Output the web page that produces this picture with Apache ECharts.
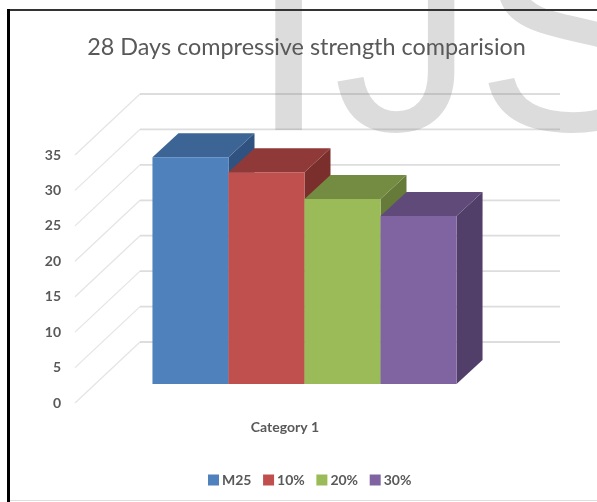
<!DOCTYPE html>
<html>
<head>
<meta charset="utf-8">
<style>
  html, body { margin: 0; padding: 0; background: #fff; }
  #chart { width: 597px; height: 502px; filter: blur(0.45px); }
</style>
<script src="https://cdn.jsdelivr.net/npm/echarts@6/dist/echarts.min.js"></script>
</head>
<body>
<div id="chart"></div>
<script>
  const categories = ['Category 1']
  const seriesNames = ['M25', '10%', '20%', '30%']
  const m25 = [32]
  const pct10 = [29.9]
  const pct20 = [26.1]
  const pct30 = [23.7]
  const yTicks = [0, 5, 10, 15, 20, 25, 30, 35]

  const faceColors = ['#4f81bd', '#c0504d', '#9bbb59', '#8064a2']
  const topColors = ['#3c6494', '#8f3a38', '#748c42', '#5f4a79']
  const sideColors = ['#2f5280', '#7b2f2d', '#667b3a', '#523f69']
  const textColor = '#595959'
  const fontName = 'Lato'

  // depth of the 3d box, in pixels
  const wallDx = 65, wallDy = 61
  const barOffsetX = 19.5, barOffsetY = 19
  const barDepthX = 26, barDepthY = 24
  const barShare = 0.181

  let myChart = echarts.init(document.getElementById('chart'), null, { renderer: 'canvas' })

  function renderWall (params, api) {
    let p = api.coord([0, api.value(0)])
    let cs = params.coordSys
    let x1 = cs.x + wallDx
    let y1 = p[1] - wallDy
    return {
      type: 'group',
      children: [
        { type: 'line', shape: { x1: cs.x, y1: p[1], x2: x1, y2: y1 }, style: { stroke: 'rgba(120,120,120,0.2)', lineWidth: 1.2 } },
        { type: 'line', shape: { x1: x1, y1: y1, x2: cs.x + cs.width + wallDx, y2: y1 }, style: { stroke: 'rgba(120,120,120,0.25)', lineWidth: 1.8 } }
      ]
    }
  }

  function renderBox (i) {
    return function (params, api) {
      let base = api.coord([api.value(0), 0])
      let top = api.coord([api.value(0), api.value(1)])
      let w = api.size([1, 0])[0] * barShare
      let x0 = base[0] - 2 * w + i * w + barOffsetX
      let x1 = x0 + w
      let y0 = top[1] - barOffsetY
      let y1 = base[1] - barOffsetY
      let dx = barDepthX, dy = barDepthY
      return {
        type: 'group',
        children: [
          { type: 'polygon', shape: { points: [[x1, y0], [x1 + dx, y0 - dy], [x1 + dx, y1 - dy], [x1, y1]] }, style: { fill: sideColors[i] } },
          { type: 'polygon', shape: { points: [[x0, y0], [x0 + dx, y0 - dy], [x1 + dx, y0 - dy], [x1, y0]] }, style: { fill: topColors[i] } },
          { type: 'rect', shape: { x: x0, y: y0, width: w, height: y1 - y0 }, style: { fill: faceColors[i] } }
        ]
      }
    }
  }

  const values = [m25, pct10, pct20, pct30]
  let boxSeries = seriesNames.map((name, i) => ({
    name: name,
    type: 'custom',
    z: 5,
    itemStyle: { color: faceColors[i] },
    encode: { x: 0, y: 1 },
    data: values[i].map((v, k) => [k, v]),
    renderItem: renderBox(i)
  }))

  let option = {
    animation: false,
    backgroundColor: '#fff',
    title: {
      text: '28 Days compressive strength comparision',
      left: 301.5,
      top: 31,
      textAlign: 'center',
      textStyle: { fontFamily: fontName, fontSize: 23.4, fontWeight: 'normal', color: textColor }
    },
    legend: {
      data: seriesNames,
      left: 203,
      top: 468,
      icon: 'rect',
      itemWidth: 11,
      itemHeight: 11,
      itemGap: 11.6,
      textStyle: { fontFamily: fontName, fontSize: 14, fontWeight: 'bold', color: textColor, padding: [0, 0, 0, -2] }
    },
    grid: { left: 75, top: 155, width: 420, height: 248 },
    xAxis: {
      type: 'category',
      data: categories,
      axisLine: { show: false },
      axisTick: { show: false },
      axisLabel: { margin: 17, fontFamily: fontName, fontSize: 14, fontWeight: 'bold', color: textColor }
    },
    yAxis: {
      type: 'value',
      min: 0,
      max: 35,
      interval: 5,
      axisLine: { show: false },
      axisTick: { show: false },
      splitLine: { show: false },
      axisLabel: { margin: 14, fontFamily: fontName, fontSize: 14, fontWeight: 'bold', color: textColor, padding: [5, 0, 0, 0] }
    },
    graphic: [
      // watermark behind the chart
      { type: 'text', z: -10, left: 249, top: -91, style: { text: 'I', fill: '#dcdcdc', fontFamily: 'Liberation Sans', fontSize: 285 } },
      { type: 'text', z: -10, left: 333, top: -91, style: { text: 'JS', fill: '#dcdcdc', fontFamily: 'Liberation Sans', fontSize: 285 } },
      // picture frame
      { type: 'rect', z: 50, shape: { x: 7, y: 9, width: 590, height: 2 }, style: { fill: '#333' } },
      { type: 'rect', z: 50, shape: { x: 7, y: 9, width: 3, height: 493 }, style: { fill: '#000' } },
      { type: 'rect', z: 50, shape: { x: 10, y: 500, width: 587, height: 1 }, style: { fill: '#ddd' } }
    ],
    series: [
      {
        name: 'walls',
        type: 'custom',
        z: 1,
        encode: { y: 0 },
        data: yTicks.map(v => [v]),
        renderItem: renderWall
      }
    ].concat(boxSeries)
  }

  myChart.setOption(option)
</script>
</body>
</html>
